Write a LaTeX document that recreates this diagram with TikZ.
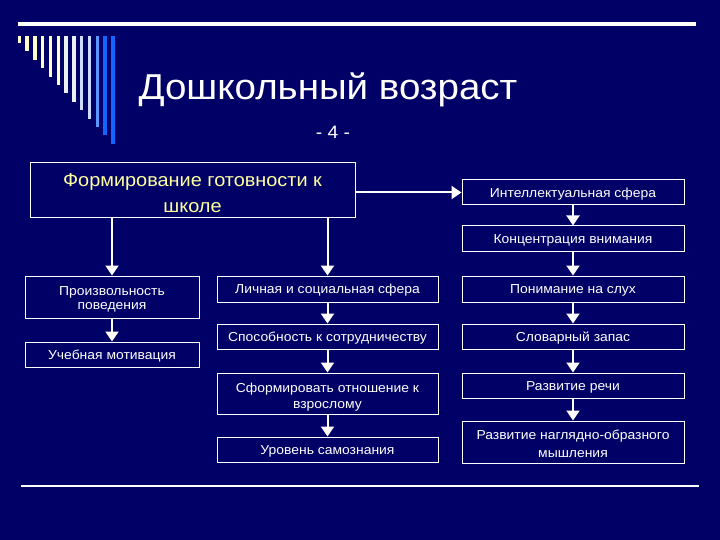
\documentclass[tikz,border=0pt]{standalone}
\usepackage{fontspec}
\setmainfont[FakeStretch=1.07]{Liberation Sans}
\usetikzlibrary{arrows.meta}
\definecolor{bgblue}{RGB}{0,0,102}
\definecolor{paleyellow}{RGB}{255,255,160}
\definecolor{barA}{RGB}{255,255,204}
\definecolor{barB}{RGB}{236,240,240}
\definecolor{barC}{RGB}{204,221,255}
\definecolor{barD}{RGB}{90,150,255}
\definecolor{barE}{RGB}{20,100,255}

\begin{document}
\begin{tikzpicture}[x=1pt,y=-1pt,
	cell/.style={draw=white, line width=1pt, text=white, inner sep=0pt,
		text height=9.3pt, text depth=0pt, font=\fontsize{13}{15}\selectfont},
	twoline/.style={align=center, text depth=0pt, text height=#1},
	link/.style={draw=white, line width=2pt, -{Triangle[width=13pt,length=10pt]}}]
	\fill[bgblue] (0,0) rectangle (720,540); % fondo
	\draw[white, line width=4.5pt] (18,24) -- (696,24);
	\foreach \c [count=\i from 0] in {barA,barA,barA,barA,barA,barA,barB,barB,barC,barC,barD,barE,barE}
		\fill[\c] ({17.5+7.8*\i},36) rectangle +(3.4,{7+8.4*\i});
	\draw[white, line width=2pt] (21,486) -- (699,486);
	\node[anchor=base west, white, font=\fontsize{36}{40}\selectfont] (title) at (135,100) {Дошкольный возраст};
	\node[white, font=\fontsize{18}{20}\selectfont] (page) at (333,132) {- 4 -};

	\node[cell, twoline=43.3pt, text=paleyellow, minimum width=325pt, minimum height=55pt,
		font=\fontsize{18.6}{26}\selectfont] (form) at (192.5,190.5) {Формирование готовности к\\школе};
	% правая колонка
	\node[cell, minimum width=222pt, minimum height=25pt] (intel) at (573,192.5) {Интеллектуальная сфера};
	\node[cell, minimum width=222pt, minimum height=25pt] (conc) at (573,238.5) {Концентрация внимания};
	\node[cell, minimum width=222pt, minimum height=26pt] (ponim) at (573,289) {Понимание на слух};
	\node[cell, minimum width=222pt, minimum height=25pt] (slov) at (573,336.5) {Словарный запас};
	\node[cell, minimum width=222pt, minimum height=25pt] (rech) at (573,385.5) {Развитие речи};
	\node[cell, twoline=31.3pt, minimum width=222pt, minimum height=42pt, font=\fontsize{13}{18}\selectfont] (nagl) at (573,442) {Развитие наглядно-образного\\мышления};
	% левая колонка
	\node[cell, twoline=25.3pt, minimum width=174pt, minimum height=42pt, font=\fontsize{13}{14}\selectfont] (proizv) at (112,297) {Произвольность\\поведения};
	\node[cell, minimum width=174pt, minimum height=25pt] (ucheb) at (112,354.5) {Учебная мотивация};
	% средняя колонка
	\node[cell, minimum width=221pt, minimum height=26pt] (lich) at (327.5,289) {Личная и социальная сфера};
	\node[cell, minimum width=221pt, minimum height=25pt] (sposob) at (327.5,336.5) {Способность к сотрудничеству};
	\node[cell, twoline=29.3pt, minimum width=221pt, minimum height=41pt, font=\fontsize{13}{16}\selectfont] (sform) at (327.5,393.5) {Сформировать отношение к\\взрослому};
	\node[cell, minimum width=221pt, minimum height=25pt] (urov) at (327.5,449.5) {Уровень самознания};

	\draw[link] (form.east |- intel) -- (intel.west);
	\draw[link] (form.south -| proizv) -- (proizv.north);
	\draw[link] (form.south -| lich) -- (lich.north);
	\draw[link] (proizv) -- (ucheb);
	\draw[link] (lich) -- (sposob);
	\draw[link] (sposob) -- (sform);
	\draw[link] (sform) -- (urov);
	\draw[link] (intel) -- (conc);
	\draw[link] (conc) -- (ponim);
	\draw[link] (ponim) -- (slov);
	\draw[link] (slov) -- (rech);
	\draw[link] (rech) -- (nagl);
\end{tikzpicture}
\end{document}
